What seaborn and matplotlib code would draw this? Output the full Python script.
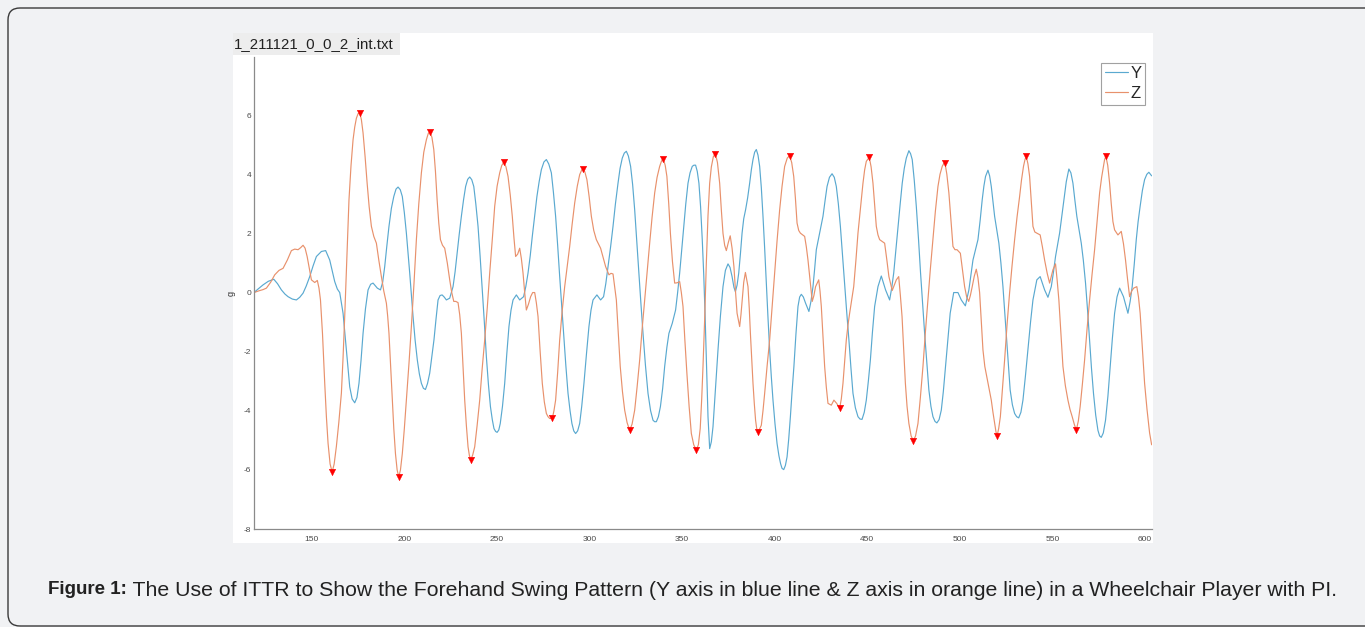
import matplotlib
matplotlib.use("Agg")
import matplotlib.pyplot as plt
import pandas as pd
import seaborn as sns
from matplotlib.patches import FancyBboxPatch, Rectangle
from matplotlib.transforms import IdentityTransform

# --- values: (sample index, g) ---
y_points = [
    (118.8, 0.00), (121.0, 0.12), (123.7, 0.26), (126.5, 0.38), (129.5, 0.45), (131.5, 0.30),
    (133.6, 0.09), (135.5, -0.05), (137.2, -0.14), (139.5, -0.22), (141.7, -0.25), (143.5, -0.16),
    (145.3, -0.02), (147.0, 0.22), (148.9, 0.54), (150.7, 0.90), (152.5, 1.22), (155.2, 1.39),
    (157.5, 1.42), (159.7, 1.10), (161.0, 0.75), (162.4, 0.37), (163.8, 0.12), (165.1, 0.00),
    (166.9, -0.70), (168.7, -1.94), (170.5, -3.19), (171.8, -3.60), (173.2, -3.73), (174.4, -3.55),
    (175.5, -3.07), (176.6, -2.30), (177.7, -1.38), (179.0, -0.55), (180.4, 0.09), (181.8, 0.28),
    (183.1, 0.32), (185.4, 0.15), (187.1, 0.09), (188.3, 0.35), (189.4, 0.88), (190.5, 1.55),
    (191.7, 2.24), (193.0, 2.85), (194.3, 3.25), (195.5, 3.50), (196.6, 3.57), (197.8, 3.48),
    (198.9, 3.25), (200.0, 2.70), (201.1, 2.01), (202.0, 1.35), (202.9, 0.66), (203.8, -0.08),
    (204.7, -0.81), (205.8, -1.60), (207.0, -2.28), (208.1, -2.75), (209.2, -3.07), (210.3, -3.24),
    (211.4, -3.28), (212.5, -3.08), (213.7, -2.73), (214.8, -2.20), (216.0, -1.60), (217.1, -0.90),
    (218.2, -0.25), (219.3, -0.10), (220.4, -0.08), (221.5, -0.15), (222.7, -0.25), (224.5, -0.19),
    (226.3, 0.20), (227.4, 0.70), (228.5, 1.33), (229.6, 1.95), (230.8, 2.58), (232.0, 3.15),
    (233.1, 3.59), (234.2, 3.83), (235.3, 3.91), (236.4, 3.82), (237.5, 3.59), (238.6, 3.00),
    (239.8, 2.24), (240.9, 1.25), (242.0, 0.20), (243.2, -1.00), (244.3, -2.17), (245.4, -3.10),
    (246.5, -3.86), (247.5, -4.30), (248.4, -4.60), (249.3, -4.70), (250.1, -4.73), (251.0, -4.65),
    (251.8, -4.43), (253.0, -3.85), (254.2, -3.07), (255.3, -2.10), (256.5, -1.15), (257.6, -0.60),
    (258.7, -0.25), (260.5, -0.08), (262.3, -0.25), (264.4, -0.14), (265.6, 0.20), (266.8, 0.66),
    (268.0, 1.25), (269.1, 1.90), (270.4, 2.60), (271.6, 3.25), (272.8, 3.75), (274.0, 4.16),
    (275.4, 4.42), (276.7, 4.50), (278.0, 4.35), (279.4, 4.05), (280.5, 3.40), (281.7, 2.58),
    (282.8, 1.60), (283.9, 0.54), (285.0, -0.45), (286.0, -1.38), (287.2, -2.45), (288.4, -3.41),
    (289.5, -4.00), (290.5, -4.43), (291.5, -4.68), (292.5, -4.77), (293.6, -4.68), (294.7, -4.43),
    (295.8, -3.85), (297.0, -3.07), (298.4, -2.05), (299.7, -1.15), (300.8, -0.60), (301.9, -0.25),
    (304.0, -0.08), (306.0, -0.25), (307.6, -0.14), (308.8, 0.30), (310.0, 0.88), (311.4, 1.55),
    (312.7, 2.24), (314.0, 3.00), (315.4, 3.70), (316.5, 4.20), (317.7, 4.55), (318.8, 4.72),
    (319.9, 4.78), (321.0, 4.62), (322.2, 4.27), (323.3, 3.65), (324.4, 2.80), (325.5, 1.75),
    (326.7, 0.66), (327.8, -0.40), (328.9, -1.38), (330.2, -2.45), (331.6, -3.41), (333.0, -4.00),
    (334.3, -4.32), (335.2, -4.37), (336.1, -4.37), (337.2, -4.20), (338.3, -3.86), (339.5, -3.25),
    (340.6, -2.50), (341.8, -1.85), (342.9, -1.38), (344.7, -1.04), (346.5, -0.59), (347.6, 0.00),
    (348.7, 0.66), (349.8, 1.45), (350.9, 2.24), (352.0, 3.00), (353.2, 3.70), (354.3, 4.05),
    (355.5, 4.27), (356.4, 4.31), (357.3, 4.31), (358.2, 4.10), (359.1, 3.70), (360.0, 2.90),
    (360.9, 1.79), (361.7, 0.60), (362.4, -0.70), (363.1, -2.20), (364.0, -4.20), (364.9, -5.28),
    (365.8, -5.05), (366.7, -4.54), (368.0, -3.30), (369.4, -1.94), (370.7, -0.80), (372.1, 0.20),
    (373.4, 0.75), (374.8, 0.97), (375.9, 0.85), (377.0, 0.54), (378.0, 0.18), (378.8, 0.03),
    (379.7, 0.25), (380.6, 0.66), (381.5, 1.30), (382.4, 2.01), (383.3, 2.50), (384.3, 2.80),
    (385.4, 3.20), (386.5, 3.70), (387.4, 4.15), (388.3, 4.50), (389.2, 4.75), (390.1, 4.84),
    (391.0, 4.65), (391.9, 4.27), (392.8, 3.55), (393.7, 2.58), (394.6, 1.50), (395.5, 0.32),
    (396.4, -0.85), (397.3, -1.94), (398.2, -2.85), (399.1, -3.64), (400.2, -4.45), (401.3, -5.11),
    (402.3, -5.52), (403.2, -5.79), (404.0, -5.95), (404.9, -5.99), (405.8, -5.85), (406.7, -5.56),
    (407.6, -4.95), (408.5, -4.20), (409.4, -3.35), (410.4, -2.50), (411.5, -1.40), (412.6, -0.47),
    (413.5, -0.15), (414.4, -0.06), (415.5, -0.15), (416.7, -0.36), (418.5, -0.64), (419.6, -0.30),
    (420.7, 0.20), (421.6, 0.80), (422.5, 1.45), (424.3, 2.01), (426.1, 2.58), (427.2, 3.10),
    (428.3, 3.59), (429.6, 3.90), (431.0, 4.02), (432.2, 3.90), (433.3, 3.59), (434.4, 3.00),
    (435.5, 2.24), (436.6, 1.30), (437.8, 0.32), (438.9, -0.65), (440.1, -1.60), (441.2, -2.55),
    (442.3, -3.41), (443.6, -3.90), (445.0, -4.20), (446.1, -4.28), (447.2, -4.29), (448.4, -4.05),
    (449.5, -3.64), (450.6, -3.00), (451.7, -2.28), (452.8, -1.35), (454.0, -0.47), (455.8, 0.20),
    (457.6, 0.56), (459.9, 0.09), (462.1, -0.25), (463.2, 0.15), (464.3, 0.66), (465.4, 1.40),
    (466.6, 2.24), (467.8, 3.00), (468.9, 3.70), (470.0, 4.20), (471.1, 4.55), (472.5, 4.80),
    (473.4, 4.70), (474.3, 4.50), (475.4, 3.80), (476.5, 2.92), (477.7, 1.80), (478.8, 0.66),
    (479.9, -0.35), (481.0, -1.38), (482.2, -2.40), (483.3, -3.30), (484.4, -3.85), (485.5, -4.20),
    (486.6, -4.36), (487.6, -4.41), (488.8, -4.30), (490.0, -3.98), (491.1, -3.35), (492.3, -2.50),
    (493.6, -1.55), (494.8, -0.70), (496.7, 0.00), (499.0, 0.00), (500.8, -0.25), (503.0, -0.45),
    (504.9, 0.09), (506.0, 0.60), (507.1, 1.10), (509.8, 1.79), (511.0, 2.45), (512.1, 3.14),
    (513.0, 3.60), (513.9, 3.93), (515.2, 4.14), (516.1, 3.95), (517.0, 3.59), (518.8, 2.58),
    (521.1, 1.67), (522.2, 1.00), (523.3, 0.20), (524.2, -0.60), (525.1, -1.38), (526.2, -2.40),
    (527.2, -3.30), (528.4, -3.80), (529.6, -4.09), (530.7, -4.20), (531.8, -4.24), (533.0, -4.05),
    (534.1, -3.64), (535.4, -2.85), (536.8, -1.94), (538.2, -1.00), (539.5, -0.25), (541.6, 0.43),
    (543.4, 0.54), (545.8, 0.09), (547.6, -0.16), (549.4, 0.20), (550.6, 0.70), (551.7, 1.22),
    (553.9, 2.01), (555.0, 2.55), (556.2, 3.14), (557.5, 3.75), (558.9, 4.18), (560.0, 4.05),
    (561.1, 3.70), (562.1, 3.15), (563.2, 2.58), (565.6, 1.67), (566.7, 1.10), (567.9, 0.32),
    (569.0, -0.60), (570.1, -1.60), (571.1, -2.55), (572.2, -3.41), (573.4, -4.15), (574.6, -4.66),
    (575.5, -4.85), (576.4, -4.90), (577.5, -4.75), (578.7, -4.32), (580.0, -3.50), (581.2, -2.50),
    (582.4, -1.55), (583.6, -0.70), (584.9, -0.15), (586.3, 0.15), (588.4, -0.14), (590.8, -0.70),
    (592.0, -0.30), (593.1, 0.20), (594.2, 0.95), (595.3, 1.79), (596.3, 2.40), (597.4, 2.92),
    (598.6, 3.45), (599.8, 3.82), (601.0, 4.00), (602.1, 4.07), (603.6, 3.95),
]

z_points = [
    (118.8, 0.00), (121.5, 0.06), (123.7, 0.10), (125.5, 0.15), (127.8, 0.35), (130.0, 0.60),
    (132.3, 0.75), (134.5, 0.82), (136.8, 1.10), (139.0, 1.42), (140.8, 1.47), (142.6, 1.45),
    (144.0, 1.52), (145.3, 1.60), (146.4, 1.50), (147.5, 1.22), (148.7, 0.80), (149.8, 0.43),
    (151.6, 0.34), (153.0, 0.41), (153.9, 0.15), (154.7, -0.25), (155.8, -1.40), (157.0, -3.07),
    (157.9, -4.20), (158.8, -5.10), (159.9, -5.80), (161.0, -6.07), (162.1, -5.80), (163.3, -5.20),
    (164.6, -4.40), (166.0, -3.40), (166.9, -2.20), (167.8, -0.80), (168.9, 1.10), (170.1, 3.14),
    (171.2, 4.30), (172.3, 5.17), (173.2, 5.60), (174.1, 5.90), (175.0, 6.05), (175.9, 6.08),
    (176.8, 5.85), (177.7, 5.40), (178.8, 4.60), (179.9, 3.70), (181.0, 2.90), (182.2, 2.24),
    (183.5, 1.90), (184.9, 1.67), (186.2, 1.10), (187.6, 0.54), (188.9, 0.05), (190.3, -0.36),
    (191.0, -0.80), (191.7, -1.38), (192.6, -2.50), (193.5, -3.64), (194.3, -4.60), (195.2, -5.45),
    (196.1, -6.00), (197.0, -6.24), (197.9, -6.00), (198.9, -5.45), (200.0, -4.60), (201.1, -3.64),
    (202.5, -2.40), (203.8, -1.15), (205.2, 0.30), (206.5, 1.79), (207.8, 3.00), (209.2, 4.05),
    (210.5, 4.75), (211.9, 5.17), (212.9, 5.38), (213.9, 5.43), (214.9, 5.25), (215.9, 4.84),
    (216.8, 4.10), (217.7, 3.14), (218.6, 2.35), (219.5, 1.79), (220.6, 1.60), (221.8, 1.50),
    (223.2, 1.00), (224.5, 0.43), (225.6, 0.00), (226.7, -0.30), (227.8, -0.30), (229.0, -0.34),
    (229.9, -0.75), (230.8, -1.38), (231.7, -2.50), (232.6, -3.64), (233.5, -4.50), (234.4, -5.22),
    (235.1, -5.50), (235.8, -5.67), (236.9, -5.50), (238.0, -5.22), (239.3, -4.50), (240.7, -3.64),
    (242.0, -2.60), (243.4, -1.60), (244.8, -0.50), (246.1, 0.66), (247.5, 1.80), (248.8, 2.92),
    (250.1, 3.60), (251.5, 4.05), (252.6, 4.30), (253.8, 4.42), (254.9, 4.25), (256.0, 3.93),
    (257.2, 3.30), (258.3, 2.58), (259.2, 1.85), (260.1, 1.22), (261.2, 1.30), (262.3, 1.50),
    (263.2, 1.15), (264.1, 0.66), (265.0, 0.00), (265.9, -0.59), (267.0, -0.40), (268.2, -0.14),
    (269.3, 0.00), (270.4, 0.00), (271.3, -0.35), (272.2, -0.81), (273.3, -1.95), (274.5, -3.07),
    (275.6, -3.70), (276.7, -4.09), (277.6, -4.20), (278.5, -4.26), (279.9, -4.26), (280.8, -4.00),
    (281.7, -3.64), (282.8, -2.70), (283.9, -1.60), (285.2, -0.65), (286.6, 0.20), (288.0, 0.90),
    (289.3, 1.56), (290.6, 2.30), (292.0, 3.03), (293.4, 3.60), (294.7, 3.99), (295.6, 4.12),
    (296.5, 4.19), (297.5, 4.08), (298.6, 3.82), (299.8, 3.25), (301.0, 2.58), (302.3, 2.10),
    (303.7, 1.79), (306.0, 1.50), (307.3, 1.20), (308.7, 0.88), (310.5, 0.60), (311.6, 0.65),
    (312.7, 0.63), (313.6, 0.20), (314.5, -0.25), (315.5, -1.30), (316.6, -2.50), (317.8, -3.35),
    (319.0, -3.98), (320.3, -4.40), (321.7, -4.66), (323.0, -4.45), (324.4, -3.98), (325.7, -3.20),
    (327.1, -2.28), (328.4, -1.25), (329.8, -0.25), (331.1, 0.70), (332.5, 1.67), (333.8, 2.55),
    (335.2, 3.37), (336.5, 3.90), (337.9, 4.27), (338.9, 4.45), (339.9, 4.52), (340.9, 4.30),
    (341.8, 3.93), (342.8, 3.00), (343.7, 2.00), (344.8, 1.05), (346.0, 0.32), (347.3, 0.33),
    (348.7, 0.37), (349.6, 0.00), (350.5, -0.47), (351.5, -1.60), (352.6, -2.73), (353.8, -3.85),
    (355.0, -4.77), (356.3, -5.15), (357.7, -5.33), (358.8, -5.15), (359.8, -4.60), (360.6, -3.60),
    (361.3, -2.50), (362.2, -0.90), (363.1, 1.00), (364.0, 2.60), (364.9, 3.70), (365.8, 4.25),
    (366.9, 4.60), (368.0, 4.70), (369.1, 4.40), (370.3, 3.70), (371.2, 2.80), (372.1, 2.00),
    (373.0, 1.60), (373.9, 1.42), (375.0, 1.70), (376.0, 1.92), (377.0, 1.50), (378.0, 0.88),
    (378.9, 0.00), (379.7, -0.70), (381.1, -1.15), (381.8, -0.75), (382.5, -0.25), (383.3, 0.35),
    (384.2, 0.68), (385.6, 0.20), (386.3, -0.55), (386.9, -1.38), (387.6, -2.20), (388.3, -3.07),
    (389.0, -3.75), (389.7, -4.32), (390.3, -4.60), (391.0, -4.73), (392.8, -4.49), (393.7, -4.00),
    (394.6, -3.41), (395.9, -2.50), (397.3, -1.60), (398.6, -0.50), (400.0, 0.66), (401.3, 1.75),
    (402.7, 2.80), (404.0, 3.60), (405.4, 4.27), (406.8, 4.55), (408.1, 4.63), (409.2, 4.40),
    (410.3, 3.93), (411.2, 3.20), (412.1, 2.35), (413.0, 2.10), (413.9, 2.01), (416.2, 1.90),
    (417.1, 1.55), (418.0, 1.10), (419.2, 0.35), (420.3, -0.30), (421.2, -0.10), (422.1, 0.20),
    (423.8, 0.43), (424.5, 0.05), (425.2, -0.47), (426.1, -1.50), (427.0, -2.50), (427.9, -3.20),
    (428.8, -3.75), (430.6, -3.81), (432.0, -3.64), (433.5, -3.75), (435.1, -3.92), (436.0, -3.60),
    (436.9, -3.07), (437.8, -2.35), (438.7, -1.60), (439.6, -1.10), (440.5, -0.70), (441.6, -0.25),
    (442.7, 0.20), (443.9, 1.10), (445.0, 2.01), (446.4, 2.90), (447.7, 3.70), (448.6, 4.15),
    (449.5, 4.44), (451.1, 4.58), (452.1, 4.25), (453.1, 3.70), (454.0, 2.95), (454.9, 2.24),
    (455.8, 1.95), (456.7, 1.79), (459.4, 1.67), (460.6, 1.10), (461.7, 0.54), (463.5, 0.07),
    (465.7, 0.43), (467.0, 0.54), (467.9, -0.10), (468.8, -0.81), (469.7, -1.95), (470.6, -3.07),
    (471.5, -3.85), (472.5, -4.43), (473.7, -4.85), (474.9, -5.02), (476.1, -4.85), (477.4, -4.43),
    (478.7, -3.55), (480.1, -2.50), (481.4, -1.35), (482.8, -0.25), (484.1, 0.80), (485.5, 1.79),
    (486.8, 2.75), (488.2, 3.59), (489.3, 4.00), (490.5, 4.27), (491.3, 4.36), (492.0, 4.38),
    (493.0, 4.00), (494.1, 3.37), (495.2, 2.45), (496.3, 1.56), (497.4, 1.45), (498.5, 1.45),
    (500.3, 1.33), (501.4, 0.80), (502.6, 0.20), (503.7, -0.15), (504.8, -0.30), (505.7, -0.10),
    (506.7, 0.20), (507.8, 0.55), (508.9, 0.79), (509.8, 0.50), (510.7, 0.00), (511.6, -1.00),
    (512.5, -1.94), (513.5, -2.50), (514.6, -2.85), (515.8, -3.25), (517.0, -3.64), (517.9, -4.05),
    (518.8, -4.43), (519.5, -4.70), (520.1, -4.86), (521.0, -4.60), (521.9, -4.20), (523.0, -3.30),
    (524.2, -2.28), (525.5, -1.10), (526.9, 0.00), (528.2, 0.90), (529.6, 1.79), (530.9, 2.55),
    (532.3, 3.25), (533.3, 3.80), (534.4, 4.27), (535.2, 4.50), (535.9, 4.61), (536.8, 4.35),
    (537.7, 3.93), (538.6, 3.10), (539.5, 2.24), (540.5, 2.05), (541.6, 2.01), (543.4, 1.95),
    (544.6, 1.55), (545.8, 1.10), (547.2, 0.65), (548.5, 0.32), (549.4, 0.55), (550.3, 0.77),
    (551.7, 0.97), (552.6, 0.40), (553.5, -0.25), (554.6, -1.40), (555.7, -2.50), (557.0, -3.15),
    (558.4, -3.64), (559.5, -3.95), (560.7, -4.20), (561.8, -4.45), (562.9, -4.66), (564.0, -4.35),
    (565.0, -3.86), (566.2, -3.10), (567.4, -2.28), (568.7, -1.25), (570.1, -0.25), (571.4, 0.60),
    (572.8, 1.45), (574.2, 2.45), (575.5, 3.37), (576.6, 3.90), (577.6, 4.27), (578.2, 4.50),
    (578.9, 4.61), (579.9, 4.30), (580.9, 3.70), (581.8, 3.00), (582.7, 2.40), (583.6, 2.12),
    (585.4, 1.95), (587.2, 2.07), (588.4, 1.65), (589.5, 1.10), (590.6, 0.45), (591.7, -0.14),
    (592.8, 0.05), (593.9, 0.15), (595.6, 0.20), (596.5, -0.15), (597.4, -0.70), (598.6, -1.90),
    (599.8, -3.07), (601.1, -3.95), (602.5, -4.75), (603.6, -5.15),
]

# peaks / troughs found on Z (red markers)
peak_points = [
    (161.0, -6.07), (175.9, 6.08), (197.0, -6.24), (213.9, 5.43), (235.8, -5.67), (253.8, 4.42),
    (279.9, -4.26), (296.5, 4.19), (321.7, -4.66), (339.9, 4.52), (357.7, -5.33), (368.0, 4.70),
    (391.0, -4.73), (408.1, 4.63), (435.1, -3.92), (451.1, 4.58), (474.9, -5.02), (492.0, 4.38),
    (520.1, -4.86), (535.9, 4.61), (562.9, -4.66), (578.9, 4.61),
]

x_ticks = [150, 200, 250, 300, 350, 400, 450, 500, 550, 600]
y_ticks = [-8, -6, -4, -2, 0, 2, 4, 6]

title = "1_211121_0_0_2_int.txt"
caption_bold = "Figure 1:"
caption_text = ("The Use of ITTR to Show the Forehand Swing Pattern (Y axis in blue line & "
                "Z axis in orange line) in a Wheelchair Player with PI.")

blue = "#5aa9d0"
orange = "#e8916c"
page = "#f1f2f4"

sns.set_theme(style="white")
plt.rcParams["font.family"] = ["Liberation Sans", "DejaVu Sans"]
plt.rcParams["axes.unicode_minus"] = False

df_y = pd.DataFrame(y_points, columns=["sample", "g"])
df_z = pd.DataFrame(z_points, columns=["sample", "g"])
df_pk = pd.DataFrame(peak_points, columns=["sample", "g"])

W, H = 1365, 627
fig = plt.figure(figsize=(W / 100, H / 100), dpi=100, facecolor=page)

# rounded page border (right side runs off the image)
border = FancyBboxPatch((8, 1), 1400, H - 9, boxstyle="round,pad=0,rounding_size=12",
                        transform=IdentityTransform(), facecolor="none",
                        edgecolor="#3a3a3a", linewidth=1.0)
fig.add_artist(border)

# white figure panel + grey title strip
fig.add_artist(Rectangle((233 / W, 1 - 543 / H), 920 / W, 510 / H, transform=fig.transFigure,
                         facecolor="white", edgecolor="none", zorder=-1))
fig.add_artist(Rectangle((233 / W, 1 - 55 / H), 167 / W, 22 / H, transform=fig.transFigure,
                         facecolor="#ededed", edgecolor="none", zorder=-1))
fig.text(234 / W, 1 - 44 / H, title, fontsize=10.8, color="#222222", va="center", ha="left")

ax = fig.add_axes([254 / W, 1 - 529 / H, 898 / W, 472 / H])
ax.set_facecolor("white")

sns.lineplot(data=df_y, x="sample", y="g", ax=ax, color=blue, linewidth=0.85, label="Y")
sns.lineplot(data=df_z, x="sample", y="g", ax=ax, color=orange, linewidth=0.85, label="Z")
sns.scatterplot(data=df_pk, x="sample", y="g", ax=ax, color="red", marker="v", s=22,
                edgecolor="red", linewidth=0.3, zorder=5)

ax.set_xlim(118.8, 603.8)
ax.set_ylim(-8, 7.97)
ax.set_xticks(x_ticks)
ax.set_yticks(y_ticks)
ax.set_xlabel("")
ax.set_ylabel("g", fontsize=6.5, color="#333333")
ax.yaxis.set_label_coords(-0.021, 0.5)

for side in ["top", "right"]:
    ax.spines[side].set_visible(False)
for side in ["left", "bottom"]:
    ax.spines[side].set_color("#8a8a8a")
    ax.spines[side].set_linewidth(0.9)
ax.tick_params(direction="in", length=6, width=0.8, color="#8a8a8a", labelsize=6,
               labelcolor="#4a4a4a")
ax.tick_params(axis="x", pad=5)
ax.tick_params(axis="y", pad=2)

leg = ax.legend(loc="upper right", bbox_to_anchor=(1 - 7 / 898, 1 - 6 / 472), borderaxespad=0,
                fontsize=12, frameon=True, fancybox=False, handlelength=1.4, handletextpad=0.15,
                borderpad=0.2, labelspacing=0.3)
leg.get_frame().set_edgecolor("#8a8a8a")
leg.get_frame().set_linewidth(0.8)

cap = fig.text(48 / W, 1 - 590 / H, caption_bold, fontsize=13.5, fontweight="bold",
               color="#222222", va="center", ha="left")
plt.annotate(" " + caption_text, xycoords=cap, xy=(1, 0.5), va="center", ha="left",
             fontsize=15.3, color="#222222", annotation_clip=False)

fig.savefig("out.png", dpi=100, facecolor=page)
